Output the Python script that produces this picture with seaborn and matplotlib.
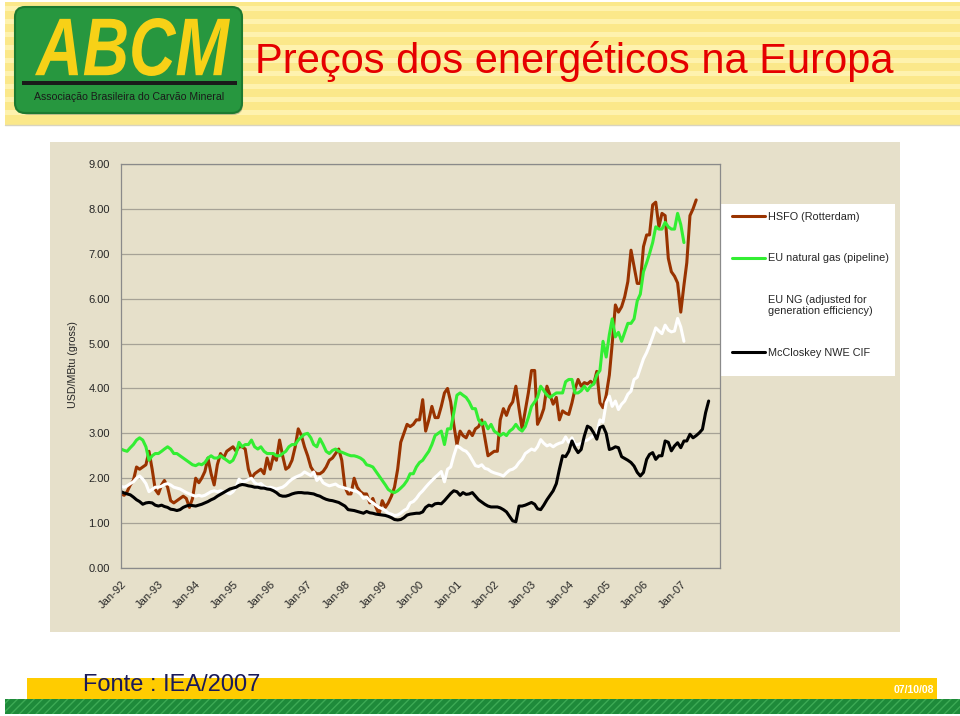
import pandas as pd
import seaborn as sns
import matplotlib.pyplot as plt
import matplotlib.dates as mdates
from matplotlib.patches import Rectangle, FancyBboxPatch, PathPatch
from matplotlib.textpath import TextPath
from matplotlib.font_manager import FontProperties
from matplotlib.transforms import Affine2D

# monthly prices from Jan-92, USD/MBtu (gross) - one row per year
hsfo = [
    1.65, 1.62, 1.70, 1.85, 1.95, 2.25, 2.20, 2.25, 2.30, 2.60, 2.20, 1.75,
    1.65, 1.85, 1.95, 1.80, 1.50, 1.45, 1.50, 1.55, 1.60, 1.55, 1.35, 1.55,
    2.00, 1.90, 2.00, 2.15, 2.45, 2.10, 1.85, 2.30, 2.55, 2.45, 2.60, 2.65,
    2.70, 2.60, 2.70, 2.70, 2.65, 2.20, 2.00, 2.10, 2.15, 2.20, 2.10, 2.45,
    2.20, 2.50, 2.40, 2.85, 2.50, 2.20, 2.25, 2.40, 2.70, 3.10, 2.95, 2.70,
    2.50, 2.25, 2.15, 2.10, 2.10, 2.15, 2.25, 2.40, 2.45, 2.55, 2.65, 2.40,
    1.80, 1.65, 1.65, 2.00, 1.80, 1.70, 1.65, 1.65, 1.45, 1.55, 1.35, 1.20,
    1.50, 1.35, 1.45, 1.60, 1.80, 2.20, 2.80, 3.00, 3.20, 3.15, 3.20, 3.30,
    3.30, 3.75, 3.05, 3.30, 3.60, 3.35, 3.35, 3.60, 3.90, 4.00, 3.70, 3.20,
    2.75, 3.05, 2.95, 2.90, 3.05, 2.95, 3.10, 3.15, 3.30, 2.90, 2.50, 2.55,
    2.60, 2.60, 3.30, 3.55, 3.40, 3.60, 3.70, 4.05, 3.55, 3.10, 3.50, 3.90,
    4.40, 4.40, 3.20, 3.35, 3.55, 4.05, 3.85, 3.65, 3.80, 3.30, 3.50, 3.45,
    3.42, 3.68, 3.98, 4.20, 4.05, 4.13, 4.10, 4.16, 4.10, 4.38, 3.68, 3.57,
    3.85, 4.30, 5.00, 5.86, 5.70, 5.82, 6.04, 6.38, 7.08, 6.71, 6.34, 6.34,
    7.16, 7.42, 7.42, 8.09, 8.15, 7.60, 7.90, 7.85, 6.90, 6.60, 6.50, 6.35,
    5.70, 6.30, 6.80, 7.85, 8.00, 8.20,
]
gas_pipeline = [
    2.65, 2.62, 2.60, 2.68, 2.75, 2.85, 2.90, 2.85, 2.70, 2.40, 2.50, 2.55,
    2.55, 2.60, 2.65, 2.70, 2.65, 2.55, 2.55, 2.50, 2.45, 2.40, 2.35, 2.30,
    2.28, 2.32, 2.30, 2.35, 2.45, 2.50, 2.45, 2.45, 2.50, 2.45, 2.40, 2.35,
    2.40, 2.55, 2.80, 2.70, 2.75, 2.75, 2.85, 2.70, 2.65, 2.70, 2.60, 2.55,
    2.55, 2.55, 2.50, 2.50, 2.55, 2.60, 2.70, 2.75, 2.75, 2.85, 2.92, 2.98,
    3.00, 2.90, 2.75, 2.70, 2.88, 2.75, 2.60, 2.55, 2.62, 2.65, 2.60, 2.58,
    2.55, 2.52, 2.50, 2.50, 2.48, 2.45, 2.40, 2.30, 2.28, 2.25, 2.15, 2.05,
    1.95, 1.85, 1.75, 1.70, 1.68, 1.72, 1.78, 1.85, 1.95, 2.10, 2.10, 2.25,
    2.35, 2.40, 2.50, 2.60, 2.75, 2.95, 3.00, 3.05, 2.75, 3.10, 3.10, 3.45,
    3.85, 3.90, 3.85, 3.80, 3.70, 3.55, 3.55, 3.30, 3.20, 3.25, 3.10, 3.20,
    3.05, 3.00, 2.95, 3.00, 2.95, 3.05, 3.10, 3.20, 3.10, 3.05, 3.15, 3.35,
    3.60, 3.70, 3.80, 4.05, 3.95, 3.85, 3.80, 3.85, 3.90, 3.90, 3.90, 4.15,
    4.20, 4.20, 3.90, 3.90, 3.95, 4.05, 3.95, 4.05, 4.10, 4.30, 4.40, 5.05,
    4.70, 5.20, 5.55, 5.15, 5.25, 5.05, 5.25, 5.45, 5.45, 5.55, 5.95, 6.10,
    6.60, 6.80, 7.00, 7.25, 7.60, 7.55, 7.55, 7.70, 7.60, 7.55, 7.55, 7.90,
    7.65, 7.25,
]
gas_adjusted = [
    1.82, 1.80, 1.83, 1.88, 1.92, 2.00, 2.05, 1.98, 1.88, 1.70, 1.75, 1.80,
    1.80, 1.82, 1.86, 1.88, 1.85, 1.80, 1.78, 1.76, 1.72, 1.68, 1.65, 1.62,
    1.60, 1.62, 1.60, 1.62, 1.66, 1.70, 1.72, 1.70, 1.72, 1.70, 1.68, 1.65,
    1.70, 1.80, 1.98, 1.92, 1.93, 1.97, 2.00, 1.90, 1.86, 1.88, 1.82, 1.78,
    1.80, 1.78, 1.76, 1.78, 1.80, 1.85, 1.92, 1.98, 2.02, 2.05, 2.08, 2.14,
    2.10, 2.06, 2.14, 1.95, 2.02, 1.90, 1.86, 1.83, 1.85, 1.87, 1.82, 1.80,
    1.78, 1.76, 1.74, 1.72, 1.70, 1.65, 1.55, 1.58, 1.50, 1.45, 1.40, 1.35,
    1.32, 1.28, 1.22, 1.20, 1.17, 1.18, 1.22, 1.28, 1.32, 1.45, 1.48, 1.55,
    1.65, 1.72, 1.80, 1.88, 1.95, 2.02, 2.08, 2.15, 1.92, 2.20, 2.25, 2.50,
    2.72, 2.68, 2.63, 2.60, 2.52, 2.40, 2.28, 2.26, 2.30, 2.22, 2.20, 2.15,
    2.12, 2.10, 2.08, 2.05, 2.12, 2.18, 2.20, 2.25, 2.35, 2.42, 2.55, 2.60,
    2.65, 2.62, 2.70, 2.86, 2.78, 2.72, 2.75, 2.70, 2.75, 2.78, 2.80, 2.92,
    2.80, 2.90, 2.75, 2.75, 2.78, 2.83, 2.85, 2.90, 2.95, 3.00, 3.30, 3.25,
    3.68, 3.83, 3.60, 3.72, 3.53, 3.65, 3.72, 3.87, 3.94, 4.20, 4.25, 4.45,
    4.66, 4.80, 4.96, 5.15, 5.35, 5.28, 5.22, 5.41, 5.30, 5.26, 5.28, 5.56,
    5.37, 5.05,
]
coal_nwe = [
    1.70, 1.67, 1.65, 1.63, 1.58, 1.52, 1.48, 1.42, 1.45, 1.46, 1.45, 1.40,
    1.38, 1.40, 1.37, 1.35, 1.31, 1.30, 1.28, 1.30, 1.35, 1.38, 1.40, 1.39,
    1.38, 1.40, 1.42, 1.45, 1.48, 1.52, 1.55, 1.60, 1.64, 1.68, 1.72, 1.76,
    1.78, 1.80, 1.84, 1.86, 1.85, 1.83, 1.82, 1.80, 1.80, 1.78, 1.78, 1.76,
    1.75, 1.72, 1.68, 1.62, 1.60, 1.60, 1.62, 1.65, 1.67, 1.68, 1.68, 1.67,
    1.67, 1.66, 1.65, 1.62, 1.60, 1.56, 1.53, 1.51, 1.50, 1.48, 1.46, 1.42,
    1.38, 1.30, 1.29, 1.28, 1.26, 1.24, 1.22, 1.26, 1.23, 1.22, 1.20, 1.19,
    1.18, 1.17, 1.15, 1.12, 1.08, 1.07, 1.08, 1.12, 1.18, 1.20, 1.21, 1.22,
    1.22, 1.25, 1.35, 1.40, 1.38, 1.43, 1.44, 1.43, 1.50, 1.58, 1.66, 1.72,
    1.70, 1.62, 1.68, 1.64, 1.65, 1.68, 1.60, 1.52, 1.47, 1.42, 1.38, 1.36,
    1.36, 1.36, 1.34, 1.30, 1.25, 1.15, 1.05, 1.03, 1.38, 1.38, 1.40, 1.43,
    1.46, 1.42, 1.32, 1.30, 1.40, 1.52, 1.62, 1.72, 1.88, 2.20, 2.50, 2.48,
    2.60, 2.83, 2.68, 2.57, 2.64, 2.94, 3.16, 3.12, 3.01, 2.87, 3.13, 3.16,
    3.00, 2.64, 2.66, 2.70, 2.68, 2.48, 2.44, 2.40, 2.35, 2.27, 2.13, 2.05,
    2.13, 2.42, 2.53, 2.57, 2.42, 2.50, 2.50, 2.83, 2.80, 2.61, 2.72, 2.79,
    2.68, 2.83, 2.83, 2.98, 2.90, 2.95, 3.01, 3.09, 3.46, 3.72,
]

series_names = ['HSFO (Rotterdam)', 'EU natural gas (pipeline)',
                'EU NG (adjusted for\ngeneration efficiency)', 'McCloskey NWE CIF']
series_colors = ['#993300', '#33EE33', '#FFFFFF', '#000000']
y_ticks = [0, 1, 2, 3, 4, 5, 6, 7, 8, 9]
x_ticks = pd.date_range('1992-01-01', '2007-01-01', freq='YS')

frames = []
for name, vals in zip(series_names, [hsfo, gas_pipeline, gas_adjusted, coal_nwe]):
    frames.append(pd.DataFrame({
        'date': pd.date_range('1992-01-01', periods=len(vals), freq='MS'),
        'price': vals,
        'series': name,
    }))
df = pd.concat(frames, ignore_index=True)

sns.set_style('white')
plt.rcParams['font.family'] = ['Liberation Sans', 'DejaVu Sans']

fig = plt.figure(figsize=(9.6, 7.16), dpi=100)

# slide decorations, in pixel coordinates (y down)
bg = fig.add_axes([0, 0, 1, 1])
bg.set_xlim(0, 960)
bg.set_ylim(716, 0)
bg.axis('off')

# striped yellow header
bg.add_patch(Rectangle((5, 2), 955, 123, color='#FBE88A', lw=0))
for y in range(6, 122, 13):
    bg.add_patch(Rectangle((5, y), 955, 5, color='#FEF2AE', lw=0))
bg.plot([5, 960], [125, 125], color='#D8D4C0', lw=1)

# ABCM logo
bg.add_patch(FancyBboxPatch((19, 11), 224, 104, boxstyle='round,pad=0,rounding_size=10',
                            color='#8C8C6E', lw=0, alpha=0.5))
bg.add_patch(FancyBboxPatch((15, 7), 227, 106, boxstyle='round,pad=0,rounding_size=10',
                            facecolor='#27973F', edgecolor='#1C7A30', lw=1.5))
tp = TextPath((0, 0), 'ABCM', size=1,
              prop=FontProperties(family='Liberation Sans', weight='bold', style='italic'))
ext = tp.get_extents()
tr = Affine2D().translate(-ext.x0, -ext.y0).scale(195 / ext.width, -58 / ext.height).translate(35, 76)
bg.add_patch(PathPatch(tr.transform_path(tp), color='#F7D117', lw=0))
bg.add_patch(Rectangle((22, 81), 215, 4, color='#1A1A1A', lw=0))
bg.text(129, 97, 'Associação Brasileira do Carvão Mineral', fontsize=7.6,
        color='#1A1A1A', ha='center', va='center')

bg.text(255, 62, 'Preços dos energéticos na Europa', fontsize=30,
        color='#E50000', ha='left', va='center')

# chart area and legend box
bg.add_patch(Rectangle((50, 142), 850, 490, color='#E6E0CA', lw=0))
bg.add_patch(Rectangle((720, 204), 175, 172, color='white', lw=0))

# footer
bg.add_patch(Rectangle((27, 678), 910, 21, color='#FFCC00', lw=0))
bg.add_patch(Rectangle((5, 699), 955, 15, facecolor='#1E8A3A', edgecolor='#3DAA55',
                       hatch='////', lw=0))
bg.text(83, 685, 'Fonte : IEA/2007', fontsize=17, color='#1A1A5A',
        ha='left', va='center')
bg.text(934, 690, '07/10/08', fontsize=7.5, color='white', weight='bold',
        ha='right', va='center')

# chart
ax = fig.add_axes([121 / 960, 1 - 568 / 716, 599 / 960, 404 / 716])
ax.set_facecolor('#E6E0CA')
sns.lineplot(data=df, x='date', y='price', hue='series', hue_order=series_names,
             palette=dict(zip(series_names, series_colors)), estimator=None,
             linewidth=2.2, ax=ax)

ax.set_ylim(0, 9)
ax.set_yticks(y_ticks)
ax.set_yticklabels([f'{v:.2f}' for v in y_ticks], fontsize=8)
ax.set_xlim(pd.Timestamp('1992-01-01'), pd.Timestamp('2008-01-20'))
ax.set_xticks(x_ticks)
ax.xaxis.set_major_formatter(mdates.DateFormatter('%b-%y'))
plt.setp(ax.get_xticklabels(), rotation=45, ha='right', rotation_mode='anchor', fontsize=8)
ax.tick_params(axis='x', length=3, color='#8A8A8A', pad=5)
ax.tick_params(axis='y', length=0, pad=8)
ax.set_xlabel('')
ax.set_ylabel('')
ax.yaxis.grid(True, color='#A6A296', lw=0.9)
ax.xaxis.grid(False)
for s in ax.spines.values():
    s.set_color('#8A8A8A')
    s.set_linewidth(0.9)

fig.text(73 / 960, 1 - 365 / 716, 'USD/MBtu (gross)', rotation=90,
         ha='center', va='center', fontsize=7.7)

handles, labels = ax.get_legend_handles_labels()
leg = ax.legend(handles, labels, loc='upper left', bbox_to_anchor=(732, 212),
                bbox_transform=bg.transData, frameon=False, fontsize=7.8,
                borderpad=0, borderaxespad=0, handlelength=3.0, handletextpad=0.3,
                labelspacing=2.9)
for line in leg.get_lines():
    line.set_linewidth(2.2)

fig.savefig('out.png', dpi=100)
